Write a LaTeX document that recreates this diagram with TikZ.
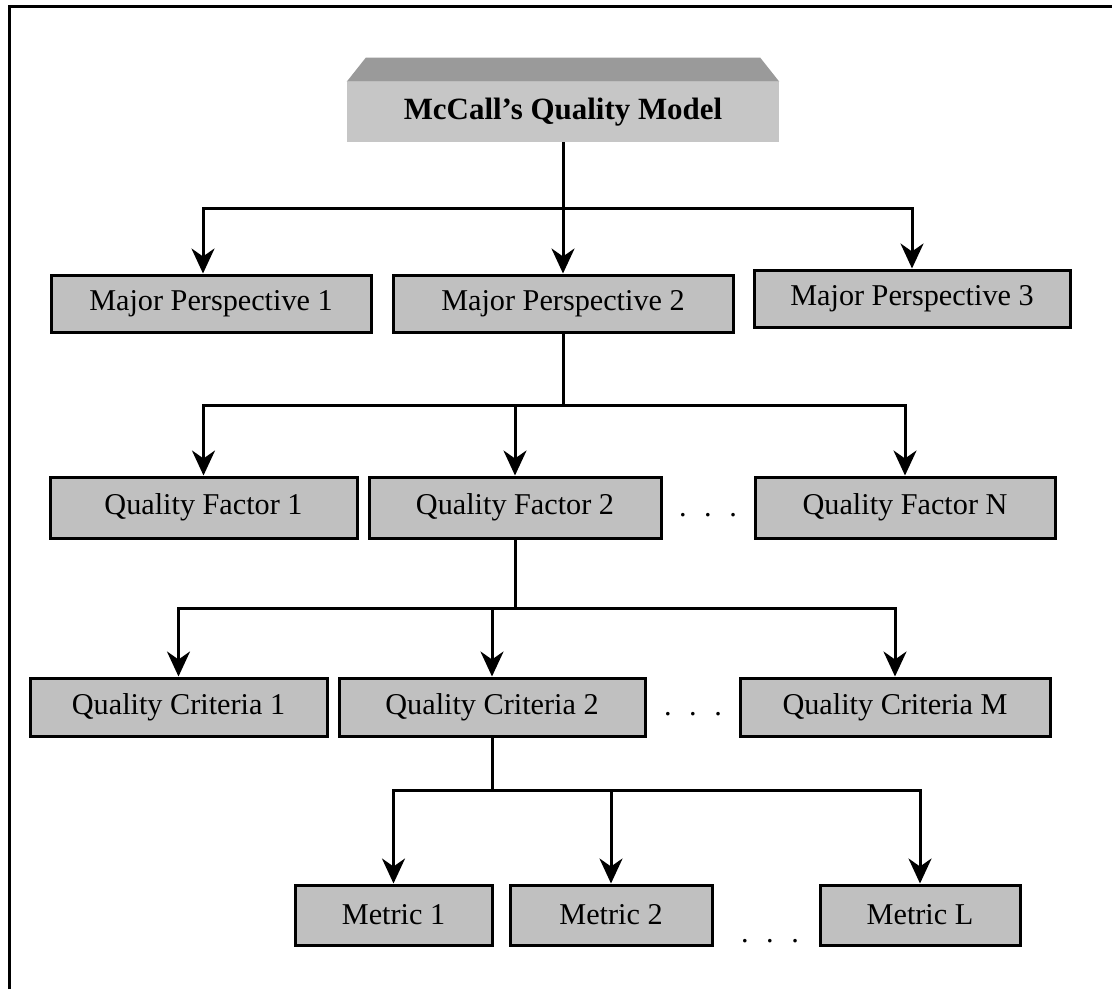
\documentclass[tikz,border=0pt]{standalone}
\usepackage{fontspec}
\setmainfont{Liberation Serif}
\usetikzlibrary{arrows.meta}
\definecolor{boxgray}{HTML}{C0C0C0}
\definecolor{titlefront}{HTML}{C6C6C6}
\definecolor{titletop}{HTML}{9A9A9A}
\begin{document}
\begin{tikzpicture}[x=0.25mm,y=-0.25mm,
  every node/.style={font=\fontsize{21.5pt}{25pt}\selectfont, inner sep=0pt},
  qbox/.style={draw=black, line width=0.75mm, fill=boxgray},
  bw/.style={minimum width={#1*0.25mm}},
  bh/.style={minimum height={#1*0.25mm}},
  link/.style={line width=0.75mm, line join=miter},
  conn/.style={link, -{Stealth[length=6.25mm,width=5.75mm,inset=2mm]}},
  ellip/.style={anchor=base}
]
\useasboundingbox (0,0) rectangle (1112,989);

% frame along the top and left
\draw[line width=0.75mm] (9.5,989) -- (9.5,6.5) -- (1112,6.5);

% title block with its bevelled top face
\node[fill=titlefront, bw=432, bh=60, font=\fontsize{22pt}{26pt}\selectfont\bfseries] (title) at (563,112) {McCall’s Quality Model};
\fill[titletop] (title.north west) -- ++(19,-24) -- ([xshift=-19*0.25mm, yshift=24*0.25mm]title.north east) -- (title.north east) -- cycle;

% major perspectives
\node[qbox, bw=320, bh=57] (mp1) at (211,303.5) {Major Perspective 1};
\node[qbox, bw=340, bh=57] (mp2) at (563,303.5) {Major Perspective 2};
\node[qbox, bw=316, bh=57] (mp3) at (912,298.5) {Major Perspective 3};

% quality factors
\node[qbox, bw=307, bh=61] (qf1) at (203.5,507.5) {Quality Factor 1};
\node[qbox, bw=292, bh=61] (qf2) at (515,507.5) {Quality Factor 2};
\node[ellip] (qfdots) at (708,516) {.\hspace{4.4mm}.\hspace{4.4mm}.};
\node[qbox, bw=300, bh=61] (qfn) at (905,507.5) {Quality Factor N};

% quality criteria
\node[qbox, bw=297, bh=58] (qc1) at (178.5,707) {Quality Criteria 1};
\node[qbox, bw=306, bh=58] (qc2) at (492,707) {Quality Criteria 2};
\node[ellip] (qcdots) at (693,715) {.\hspace{4.4mm}.\hspace{4.4mm}.};
\node[qbox, bw=310, bh=58] (qcm) at (895,707) {Quality Criteria M};

% metrics
\node[qbox, bw=197, bh=60] (m1) at (393.5,915) {Metric 1};
\node[qbox, bw=202, bh=60] (m2) at (611,915) {Metric 2};
\node[ellip] (mdots) at (770,942) {.\hspace{4.4mm}.\hspace{4.4mm}.};
\node[qbox, bw=200, bh=60] (ml) at (920,915) {Metric L};

% elbow joints
\coordinate (j1) at (563,208);
\coordinate (j2) at (563,405);
\coordinate (j3) at (515,608);
\coordinate (j4) at (492,790);

\draw[link] (title.south) -- (j1);
\draw[conn] (j1) -| ([xshift=-8*0.25mm]mp1.north);
\draw[conn] (j1) -- (mp2.north);
\draw[conn] (j1) -| (mp3.north);

\draw[link] (mp2.south) -- (j2);
\draw[conn] (j2) -| (qf1.north);
\draw[conn] (j2) -| (qf2.north);
\draw[conn] (j2) -| (qfn.north);

\draw[link] (qf2.south) -- (j3);
\draw[conn] (j3) -| (qc1.north);
\draw[conn] (j3) -| (qc2.north);
\draw[conn] (j3) -| (qcm.north);

\draw[link] (qc2.south) -- (j4);
\draw[conn] (j4) -| (m1.north);
\draw[conn] (j4) -| (m2.north);
\draw[conn] (j4) -| (ml.north);
\end{tikzpicture}
\end{document}
